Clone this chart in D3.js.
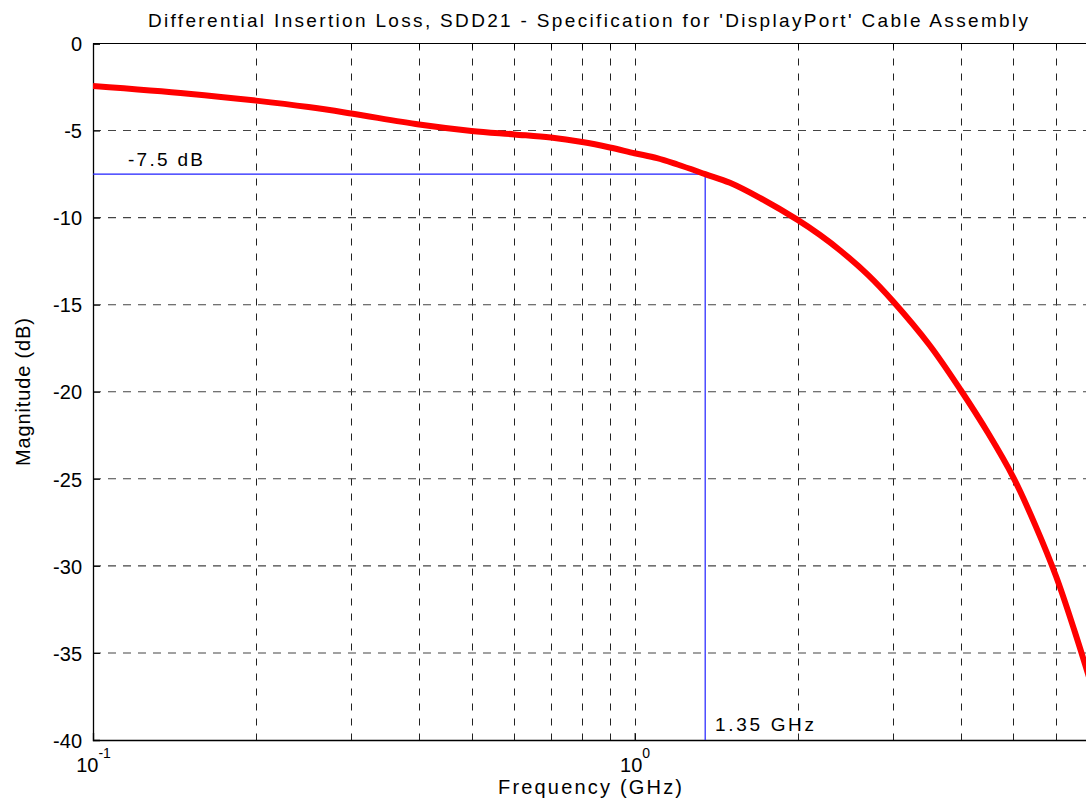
<!DOCTYPE html>
<html>
<head>
<meta charset="utf-8">
<script src="https://cdn.jsdelivr.net/npm/d3@7"></script>
<style>
  html, body { margin: 0; padding: 0; background: #fff; }
  svg { display: block; font-family: "Liberation Sans", Arial, Helvetica, sans-serif; }
</style>
</head>
<body>
<svg id="chart" width="1086" height="810"></svg>
<script>
// ---- data ----
const freqGHz = [0.1, 0.15, 0.2, 0.25, 0.3, 0.4, 0.5, 0.6, 0.7, 0.8, 0.9, 1.0, 1.1, 1.2, 1.35, 1.5, 1.7, 2.0, 2.2, 2.4, 2.7, 3.0, 3.5, 4.0, 4.5, 5.0, 5.5, 6.0, 6.5, 7.0];
const sdd21dB = [-2.44, -2.88, -3.28, -3.65, -4.02, -4.65, -5.02, -5.22, -5.4, -5.66, -5.97, -6.3, -6.58, -6.95, -7.5, -8.0, -8.85, -10.13, -11.0, -11.9, -13.3, -14.8, -17.3, -19.9, -22.4, -24.9, -27.7, -30.6, -33.8, -37.0];
const yTicks = [0, -5, -10, -15, -20, -25, -30, -35, -40];
const xMajorTicks = [0.1, 1];
const xGridValues = [0.2, 0.3, 0.4, 0.5, 0.6, 0.7, 0.8, 0.9, 1, 2, 3, 4, 5, 6, 7];
const markerFreq = 1.35;
const markerLoss = -7.5;
const titleText = "Differential Insertion Loss, SDD21 - Specification for 'DisplayPort' Cable Assembly";
const xLabel = "Frequency (GHz)";
const yLabel = "Magnitude (dB)";
const markerLossLabel = "-7.5 dB";
const markerFreqLabel = "1.35 GHz";

(function () {
// ---- layout ----
const svg = d3.select("#chart");
const pL = 93, pT = 43.5, pB = 740;
const decadePx = 541.6;
const x = d3.scaleLog().domain([0.1, 7]).range([pL, pL + decadePx * Math.log10(70)]);
const y = d3.scaleLinear().domain([-40, 0]).range([pB, pT]);
const pR = x.range()[1];

svg.append("defs").append("clipPath").attr("id", "plotclip")
  .append("rect").attr("x", pL).attr("y", pT).attr("width", pR - pL).attr("height", pB - pT);

// grid
const grid = svg.append("g");
grid.selectAll("line.v").data(xGridValues).join("line")
  .attr("class", "v")
  .attr("x1", d => Math.round(x(d)) + 0.5).attr("x2", d => Math.round(x(d)) + 0.5)
  .attr("y1", pT).attr("y2", pB)
  .attr("stroke", "#222").attr("stroke-width", 1).attr("stroke-dasharray", "7,8");
grid.selectAll("line.h").data(yTicks.filter(d => d > -40)).join("line")
  .attr("class", "h")
  .attr("x1", pL).attr("x2", pR)
  .attr("y1", d => y(d)).attr("y2", d => y(d))
  .attr("stroke", "#444").attr("stroke-width", 1.1).attr("stroke-dasharray", "8,7");

// axes
const yAxis = svg.append("g").attr("transform", `translate(${pL},0)`)
  .call(d3.axisLeft(y).tickValues(yTicks).tickSize(-7).tickPadding(11).tickFormat(d => String(d)));
yAxis.select(".domain").attr("stroke", "#000").attr("stroke-width", 1.3);
yAxis.selectAll(".tick line").attr("stroke", "#000");
yAxis.selectAll(".tick text").attr("font-size", 20).attr("fill", "#000")
  .attr("font-family", "'Liberation Sans', Arial, sans-serif").attr("dy", "0.36em");

const xAxis = svg.append("g").attr("transform", `translate(0,${pB})`)
  .call(d3.axisBottom(x).tickValues(xMajorTicks).tickSize(-7).tickPadding(12).tickFormat(""));
xAxis.select(".domain").attr("stroke", "#000").attr("stroke-width", 1.3);
xAxis.selectAll(".tick line").attr("stroke", "#000");
xAxis.selectAll(".tick text").each(function(d) {
  const t = d3.select(this)
    .attr("font-family", "'Liberation Sans', Arial, sans-serif")
    .attr("fill", "#000").attr("y", 32).attr("dy", null).attr("text-anchor", "middle");
  t.text(null);
  t.append("tspan").attr("font-size", 20).text("10");
  t.append("tspan").attr("font-size", 14).attr("dy", -14).text(String(Math.round(Math.log10(d))));
});

// top border
svg.append("line").attr("x1", pL).attr("x2", pR).attr("y1", pT).attr("y2", pT)
  .attr("stroke", "#000").attr("stroke-width", 1.2);
svg.append("g").selectAll("line").data(xGridValues.concat([0.1])).join("line")
  .attr("x1", d => Math.round(x(d)) + 0.5).attr("x2", d => Math.round(x(d)) + 0.5)
  .attr("y1", pT).attr("y2", pT + 5).attr("stroke", "#000");

// marker lines
svg.append("path")
  .attr("d", `M${pL},${y(markerLoss)}H${x(markerFreq)}V${pB}`)
  .attr("fill", "none").attr("stroke", "#2020ff").attr("stroke-width", 1.2);

// curve
const line = d3.line().x((d, i) => x(freqGHz[i])).y(d => y(d)).curve(d3.curveCatmullRom.alpha(0.5));
svg.append("path").datum(sdd21dB)
  .attr("clip-path", "url(#plotclip)")
  .attr("d", line)
  .attr("fill", "none").attr("stroke", "#ff0000").attr("stroke-width", 6)
  .attr("stroke-linejoin", "round");

// texts
svg.append("text").attr("x", 128).attr("y", 166)
  .attr("font-size", 19).attr("textLength", 75).attr("lengthAdjust", "spacing")
  .text(markerLossLabel);
svg.append("text").attr("x", 715).attr("y", 731)
  .attr("font-size", 19).attr("textLength", 99).attr("lengthAdjust", "spacing")
  .text(markerFreqLabel);

svg.append("text").attr("x", 148).attr("y", 27)
  .attr("font-size", 19).attr("textLength", 880).attr("lengthAdjust", "spacing")
  .text(titleText);

svg.append("text").attr("x", 498).attr("y", 794)
  .attr("font-size", 20).attr("textLength", 184).attr("lengthAdjust", "spacing")
  .text(xLabel);

svg.append("text")
  .attr("transform", "translate(30,466) rotate(-90)")
  .attr("font-size", 20).attr("textLength", 148).attr("lengthAdjust", "spacing")
  .text(yLabel);
})();
</script>
</body>
</html>
